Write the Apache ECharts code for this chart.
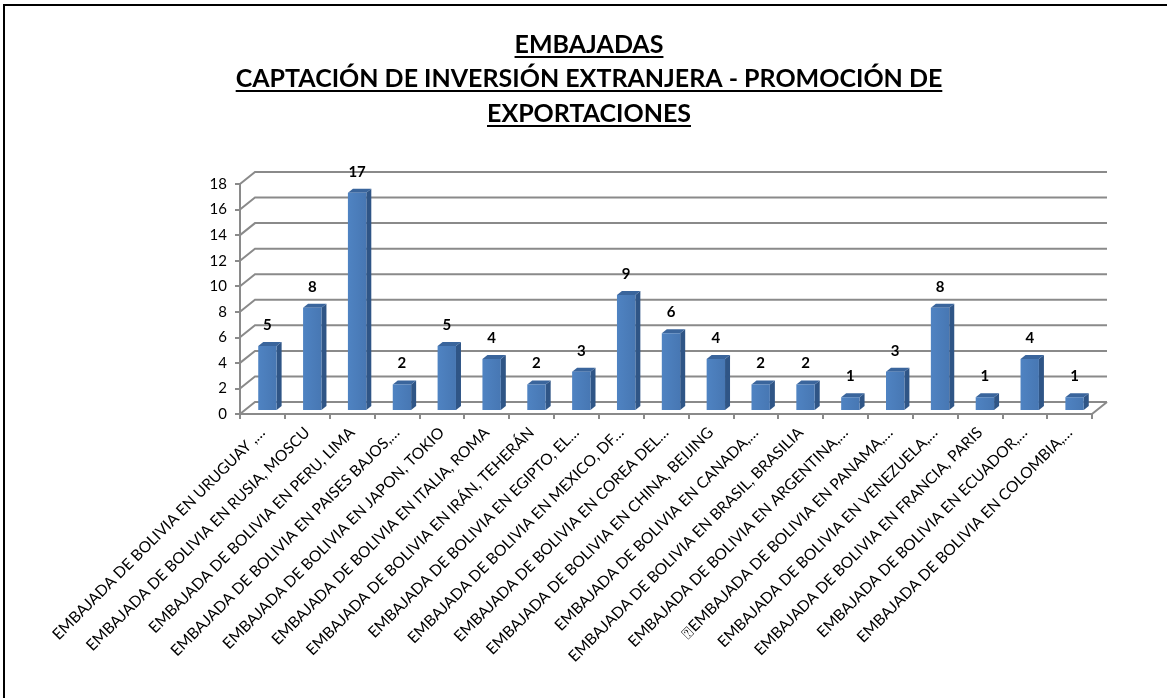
<!DOCTYPE html>
<html>
<head>
<meta charset="utf-8">
<script src="https://cdn.jsdelivr.net/npm/echarts@6/dist/echarts.min.js"></script>
<style>
html,body{margin:0;padding:0;background:#fff;}
#chart{width:1167px;height:698px;}
</style>
</head>
<body>
<div id="chart"></div>
<script>
// ---- data ----
const titleLines = [
  'EMBAJADAS',
  'CAPTACIÓN DE INVERSIÓN EXTRANJERA - PROMOCIÓN DE',
  'EXPORTACIONES'
];
const categories = [
  'EMBAJADA DE BOLIVIA EN URUGUAY ,…',
  'EMBAJADA DE BOLIVIA EN RUSIA, MOSCU',
  'EMBAJADA DE BOLIVIA EN PERU, LIMA',
  'EMBAJADA DE BOLIVIA EN PAISES BAJOS,…',
  'EMBAJADA DE BOLIVIA EN JAPON, TOKIO',
  'EMBAJADA DE BOLIVIA EN ITALIA, ROMA',
  'EMBAJADA DE BOLIVIA EN IRÁN, TEHERÁN',
  'EMBAJADA DE BOLIVIA EN EGIPTO, EL…',
  'EMBAJADA DE BOLIVIA EN MEXICO, DF…',
  'EMBAJADA DE BOLIVIA EN COREA DEL…',
  'EMBAJADA DE BOLIVIA EN CHINA, BEIJING',
  'EMBAJADA DE BOLIVIA EN CANADA,…',
  'EMBAJADA DE BOLIVIA EN BRASIL, BRASILIA',
  'EMBAJADA DE BOLIVIA EN ARGENTINA,…',
  '\u2370EMBAJADA DE BOLIVIA EN PANAMA,…',
  'EMBAJADA DE BOLIVIA EN VENEZUELA,…',
  'EMBAJADA DE BOLIVIA EN FRANCIA, PARIS',
  'EMBAJADA DE BOLIVIA EN ECUADOR,…',
  'EMBAJADA DE BOLIVIA EN COLOMBIA,…'
];
const values = [5, 8, 17, 2, 5, 4, 2, 3, 9, 6, 4, 2, 2, 1, 3, 8, 1, 4, 1];
const yTicks = [0, 2, 4, 6, 8, 10, 12, 14, 16, 18];

// ---- styling constants ----
const FONT = 'Lato, "Open Sans", "Liberation Sans", sans-serif';
const DX = 15, DY = -12;     // depth of the 3D walls
const BX = 5, BY = -4;       // bar front face offset
const BDX = 5, BDY = -4;     // bar depth
const GRID_COLOR = '#8a8a8a';

const chart = echarts.init(document.getElementById('chart'));

// title fitting
const cv = document.createElement('canvas').getContext('2d');
function measure(txt, size) { cv.font = 'bold ' + size + 'px ' + FONT; return cv.measureText(txt).width; }
let tSize = 23;
tSize = Math.min(25, Math.max(20, tSize * 711 / measure(titleLines[1], tSize)));
const titleMid = [45, 79, 114];
const titleGraphics = [];
titleLines.forEach((t, k) => {
  const w = measure(t, tSize);
  titleGraphics.push({
    type: 'text', x: 589, y: titleMid[k],
    style: { text: t, font: 'bold ' + tSize + 'px ' + FONT, fill: '#000', textAlign: 'center', textVerticalAlign: 'middle' }
  });
  titleGraphics.push({
    type: 'rect', shape: { x: 589 - w / 2, y: titleMid[k] + 11, width: w, height: 2 },
    style: { fill: '#000' }
  });
});

function renderGrid(params, api) {
  const cs = params.coordSys;
  const v = api.value(1);
  const y = api.coord([0, v])[1];
  const children = [{
    type: 'polyline',
    shape: { points: [[cs.x, y], [cs.x + DX, y + DY], [cs.x + cs.width + DX, y + DY]] },
    style: { stroke: GRID_COLOR, lineWidth: 2, fill: null }
  }];
  if (v === 0) {
    children.push({
      type: 'line',
      shape: { x1: cs.x + cs.width, y1: y, x2: cs.x + cs.width + DX, y2: y + DY },
      style: { stroke: GRID_COLOR, lineWidth: 2 }
    });
  }
  return { type: 'group', children };
}

function renderBar(params, api) {
  const i = api.value(0), v = api.value(1);
  const top = api.coord([i, v]);
  const base = api.coord([i, 0]);
  const w = api.size([1, 0])[0] * 0.41;
  const x0 = top[0] + BX - w / 2, x1 = x0 + w;
  const yT = top[1] + BY, yB = base[1] + BY;
  return {
    type: 'group',
    children: [
      { type: 'polygon', shape: { points: [[x1, yT], [x1 + BDX, yT + BDY], [x1 + BDX, yB + BDY], [x1, yB]] },
        style: { fill: '#2f5586' } },
      { type: 'polygon', shape: { points: [[x0, yT], [x0 + BDX, yT + BDY], [x1 + BDX, yT + BDY], [x1, yT]] },
        style: { fill: '#3a659c' } },
      { type: 'rect', shape: { x: x0, y: yT, width: w, height: yB - yT },
        style: { fill: new echarts.graphic.LinearGradient(0, 0, 1, 0, [
          { offset: 0, color: '#4f83c2' }, { offset: 1, color: '#4777b3' }]) } },
      { type: 'text', x: x0 + w / 2, y: yT - 21,
        style: { text: String(v), font: 'bold 15px ' + FONT, fill: '#000', textAlign: 'center', textVerticalAlign: 'middle' } }
    ]
  };
}

const option = {
  animation: false,
  backgroundColor: '#fff',
  graphic: [
    { type: 'rect', shape: { x: 4, y: 5, width: 1400, height: 900 }, style: { fill: null, stroke: '#000', lineWidth: 2 }, z: 0 }
  ].concat(titleGraphics),
  grid: { left: 240, right: 75, top: 184, bottom: 284 },
  xAxis: {
    type: 'category',
    data: categories,
    boundaryGap: true,
    axisLine: { show: true, lineStyle: { color: GRID_COLOR, width: 2 } },
    axisTick: { show: true, length: 5, lineStyle: { color: GRID_COLOR, width: 2 } },
    axisLabel: { interval: 0, rotate: 45, margin: 16, color: '#000', fontSize: 15.5, fontFamily: FONT },
    splitLine: { show: false }
  },
  yAxis: {
    type: 'value',
    min: 0, max: 18, interval: 2,
    axisLine: { show: true, lineStyle: { color: GRID_COLOR, width: 2 } },
    axisTick: { show: true, length: 5, lineStyle: { color: GRID_COLOR, width: 2 } },
    axisLabel: { margin: 13, color: '#000', fontSize: 15, fontFamily: FONT },
    splitLine: { show: false }
  },
  series: [
    {
      type: 'custom', z: 1, silent: true,
      renderItem: renderGrid,
      encode: { x: 0, y: 1 },
      data: yTicks.map(v => [0, v])
    },
    {
      type: 'custom', z: 3,
      renderItem: renderBar,
      encode: { x: 0, y: 1 },
      data: values.map((v, i) => [i, v])
    }
  ]
};
chart.setOption(option);
</script>
</body>
</html>
